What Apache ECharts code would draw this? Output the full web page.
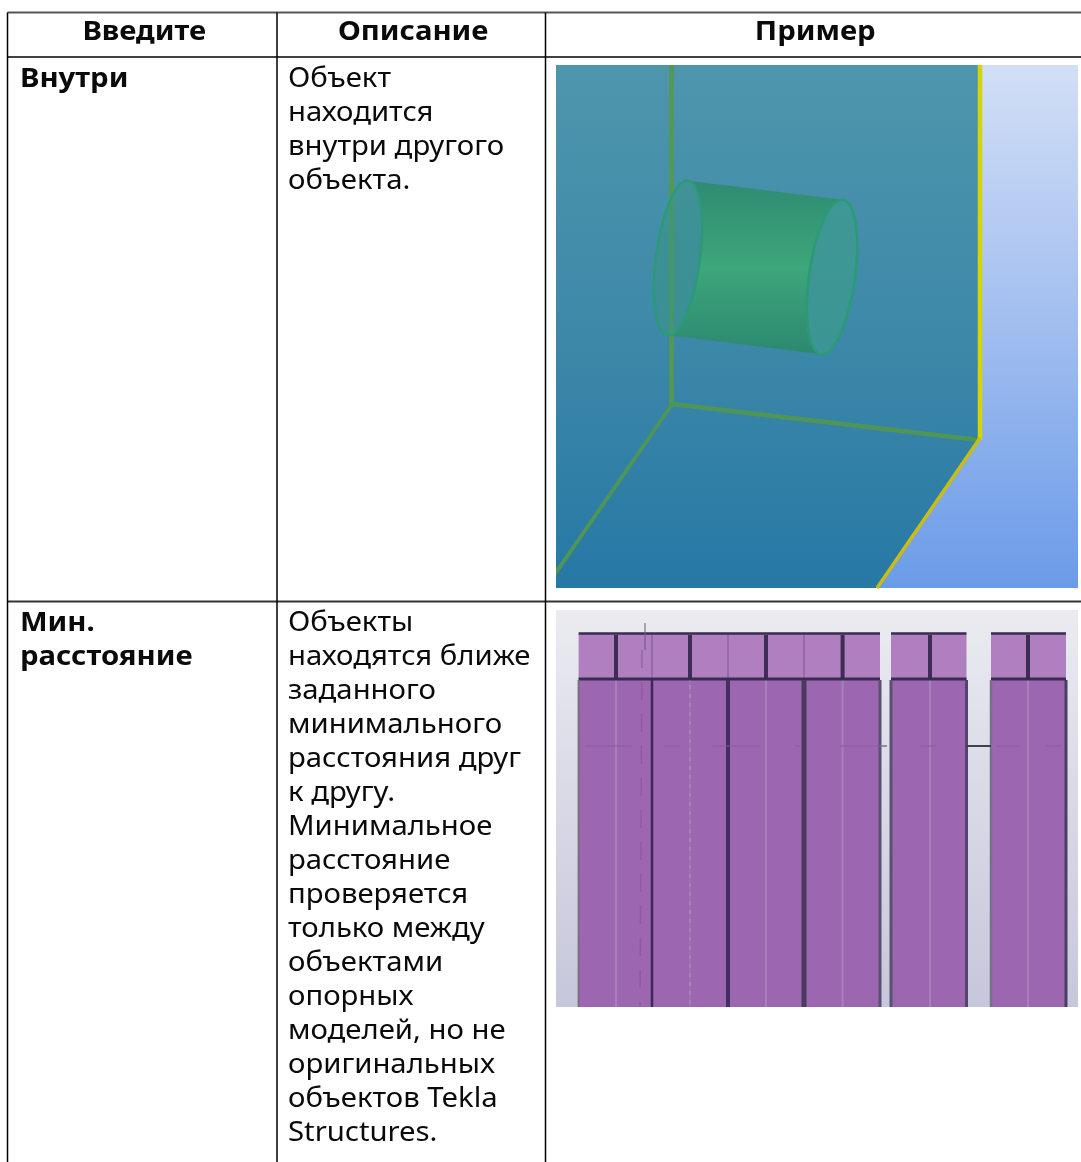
<!DOCTYPE html>
<html><head><meta charset="utf-8">
<style>html,body{margin:0;padding:0;background:#fff}#c{width:1081px;height:1162px}</style>
<script src="https://cdn.jsdelivr.net/npm/echarts@6/dist/echarts.min.js"></script>
</head><body><div id="c"></div>
<script>
var headers = ['Введите', 'Описание', 'Пример'];
var rowNames = [['Внутри'], ['Мин.', 'расстояние']];
var rowDescriptions = [
  ['Объект', 'находится', 'внутри другого', 'объекта.'],
  ['Объекты', 'находятся ближе', 'заданного', 'минимального', 'расстояния друг', 'к другу.', 'Минимальное', 'расстояние', 'проверяется', 'только между', 'объектами', 'опорных', 'моделей, но не', 'оригинальных', 'объектов Tekla', 'Structures.']
];
var columnEdges = [7.5, 277, 545.5, 1081];
var rowEdges = [12.5, 57, 601.5];
var panelDividers = [[578.6,2,'#77707f'],[652,2.5,'#3a2a55'],[728,4,'#44305e'],[804,5,'#4a3a60'],[880,3,'#5a5070'],[891,3,'#5a5070'],[966.5,3,'#55456e'],[991,2.5,'#77708a'],[1066,3,'#4a3f62']];
var panelCentres = [616, 690, 766, 842.6, 930, 1028];
var panelGroups = [[578.6,804],[804,880],[891,966.5],[991,1066]];

var LG = echarts.graphic.LinearGradient;
var FONT = '"Noto Sans", sans-serif';
var FS = 26.5, LH = 34, STRETCH = 1.105;

function renderScene(params, api) {
  if (params.dataIndex !== 0) return;
  var P = function (x, y) { return api.coord([x, y]); };
  var ch = [];
  function rect(x0, y0, x1, y1, fill) {
    var a = P(x0, y0), b = P(x1, y1);
    ch.push({type:'rect', shape:{x:a[0], y:a[1], width:b[0]-a[0], height:b[1]-a[1]}, style:{fill:fill}});
  }
  function line(x0, y0, x1, y1, stroke, w, op, dash) {
    var a = P(x0, y0), b = P(x1, y1);
    ch.push({type:'line', shape:{x1:a[0], y1:a[1], x2:b[0], y2:b[1]}, style:{stroke:stroke, lineWidth:w, opacity:op==null?1:op, lineDash:dash||null, fill:null}});
  }
  function poly(pts, fill, stroke, w) {
    ch.push({type:'polygon', shape:{points:pts.map(function(p){return P(p[0],p[1]);})}, style:{fill:fill, stroke:stroke||null, lineWidth:w||0}});
  }
  function ell(cx, cy, rx, ry, deg, fill, stroke, w) {
    var a = P(cx, cy);
    ch.push({type:'ellipse', x:a[0], y:a[1], rotation:-deg*Math.PI/180, shape:{cx:0, cy:0, rx:rx, ry:ry}, style:{fill:fill, stroke:stroke, lineWidth:w}});
  }
  function arc(cx, cy, rx, ry, deg, from, to) {
    var r = deg*Math.PI/180, out = [];
    for (var i = 0; i <= 24; i++) {
      var t = (from + (to-from)*i/24)*Math.PI/180;
      var ex = rx*Math.cos(t), ey = ry*Math.sin(t);
      out.push([cx + ex*Math.cos(r) - ey*Math.sin(r), cy + ex*Math.sin(r) + ey*Math.cos(r)]);
    }
    return out;
  }
  function text(s, x, y, bold, align) {
    var a = P(x, y);
    ch.push({type:'text', x:a[0], y:a[1], scaleX:STRETCH, style:{text:s, x:0, y:0, fill:'#0a0a0a', font:(bold?'bold ':'')+FS+'px '+FONT, textAlign:align||'left', textVerticalAlign:'middle'}});
  }

  // picture 1
  rect(556,65,1078,588,new LG(0,0,0,1,[{offset:0,color:'#d2dff6'},{offset:0.45,color:'#a6c1f0'},{offset:1,color:'#6b9be8'}]));
  poly([[556,65],[980,65],[980,438],[876,588],[556,588]],new LG(0,0,0,1,[{offset:0,color:'#4e96ac'},{offset:0.5,color:'#3e89a9'},{offset:1,color:'#2678a5'}]));
  line(671.5,65,671.5,404,'#55984f',4.5);
  line(671.5,404,979,440,'#4f9656',4.5);
  poly([[671.5,402],[673,406],[556,576],[556,569]],'#4f9656');
  line(980,65,980,440,'#d6d406',4.5);
  line(980,438,877,588,'#c9bd12',3.5);
  // cylinder
  var left = [678,258], right = [832,277];
  var body = arc(left[0],left[1],22,78,7.5,-90,90).concat(arc(right[0],right[1],23,78,8,90,270));
  poly(body,new LG(0,0,0,1,[{offset:0,color:'#2f8b73'},{offset:0.5,color:'#3da67a'},{offset:1,color:'#2c8870'}]));
  ell(left[0],left[1],22,78,7.5,'rgba(56,150,130,0.5)','#2b9a76',2.5);
  ell(right[0],right[1],23,78,8,'rgba(60,155,140,0.7)','#2b9a76',2.5);

  // picture 2
  rect(556,610,1078,1007,new LG(0,0,0,1,[{offset:0,color:'#ebebf1'},{offset:0.5,color:'#d8d8e6'},{offset:1,color:'#c7c7dc'}]));
  panelGroups.forEach(function (g) {
    rect(g[0],680,g[1],1007,'#9c66b0');
    rect(g[0],634,g[1],679,'#b07fc0');
  });
  panelCentres.forEach(function (x) {
    line(x,680,x,1007,'#ab84bf',2,0.8);
    line(x,635,x,679,'#3f2c52',4);
  });
  [652,728,804].forEach(function(x){ line(x,635,x,679,'#8d62a3',1.5); });
  panelGroups.forEach(function (g) {
    line(g[0],633.5,g[1],633.5,'#3b2b50',2.5);
    line(g[0],679,g[1],679,'#3b2b50',3);
  });
  panelDividers.forEach(function (d) { line(d[0],680,d[0],1007,d[2],d[1]); });
  line(645,623,645,650,'#6a5a78',1);
  line(642,650,640,1007,'#8a55a0',1.5,0.7,[18,14]);
  line(690,680,690,1007,'#8a5ba2',1.5,0.5,[5,4]);
  line(966,746,991,746,'#444050',2);
  line(880,746,887,746,'#77708a',1.5);
  [[585,632],[664,680],[712,760],[795,802],[840,880],[920,936],[996,1020],[1045,1062]].forEach(function(s){
    line(s[0],746,s[1],746,'#8a55a0',1.5,0.55);
  });

  // rules
  line(columnEdges[0],rowEdges[0],columnEdges[3],rowEdges[0],'#555',2);
  line(columnEdges[0],rowEdges[1],columnEdges[3],rowEdges[1],'#000',1.5);
  line(columnEdges[0],rowEdges[2],columnEdges[3],rowEdges[2],'#333',2);
  columnEdges.slice(0,3).forEach(function (x) { line(x,rowEdges[0],x,1162,'#000',1.5); });

  // text
  headers.forEach(function (h, i) { text(h,(columnEdges[i]+columnEdges[i+1])/2+2,32,true,'center'); });
  var tops = [79, 623];
  rowNames.forEach(function (lines, r) {
    lines.forEach(function (s, i) { text(s,20,tops[r]+i*LH,true); });
  });
  rowDescriptions.forEach(function (lines, r) {
    lines.forEach(function (s, i) { text(s,288,tops[r]+i*LH,false); });
  });
  return {type:'group', children:ch};
}

var chart = echarts.init(document.getElementById('c'), null, {renderer:'canvas', width:1081, height:1162});
chart.setOption({
  animation:false,
  backgroundColor:'#fff',
  grid:{left:0, right:0, top:0, bottom:0},
  xAxis:{type:'value', min:0, max:1081, show:false},
  yAxis:{type:'value', min:0, max:1162, inverse:true, show:false},
  series:[{type:'custom', coordinateSystem:'cartesian2d', clip:false, silent:true, data:[[0,0]], renderItem:renderScene}]
});
</script></body></html>
